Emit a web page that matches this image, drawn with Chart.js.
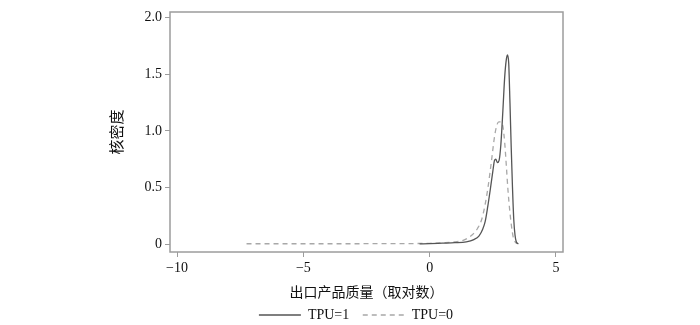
<!DOCTYPE html>
<html lang="zh">
<head>
  <meta charset="UTF-8" />
  <title>核密度</title>
  <script src="https://cdn.jsdelivr.net/npm/chart.js"></script>
  <style>
    body { margin: 0; background: #fff; }
    #wrap { width: 700px; height: 325px; }
  </style>
</head>
<body>
  <div id="wrap"><canvas id="chart"></canvas></div>

  <script>
    const xTicks = [-10, -5, 0, 5];
    const yTicks = [0, 0.5, 1, 1.5, 2];

    // TPU=1 (solid)
    const tpu1X = [-0.4, 0, 0.5, 1.0, 1.45, 1.75, 1.95, 2.1, 2.2, 2.3, 2.4, 2.5, 2.57, 2.62, 2.68, 2.75, 2.82, 2.9, 2.97, 3.03, 3.08, 3.13, 3.18, 3.23, 3.28, 3.33, 3.38, 3.43, 3.5];
    const tpu1Y = [0.002, 0.004, 0.008, 0.012, 0.02, 0.04, 0.07, 0.13, 0.2, 0.33, 0.48, 0.64, 0.74, 0.75, 0.72, 0.74, 0.88, 1.18, 1.47, 1.62, 1.67, 1.6, 1.25, 0.85, 0.5, 0.22, 0.08, 0.02, 0.002];

    // TPU=0 (dashed)
    const tpu0X = [-7.25, -5, -3, -1.5, -0.5, 0, 0.5, 1.0, 1.35, 1.7, 1.9, 2.05, 2.18, 2.31, 2.44, 2.57, 2.66, 2.74, 2.82, 2.9, 2.97, 3.04, 3.1, 3.17, 3.24, 3.31, 3.4, 3.5, 3.65];
    const tpu0Y = [0.003, 0.003, 0.003, 0.004, 0.005, 0.007, 0.012, 0.02, 0.035, 0.085, 0.14, 0.21, 0.33, 0.5, 0.72, 0.95, 1.05, 1.08, 1.08, 1.04, 0.9, 0.68, 0.48, 0.3, 0.16, 0.06, 0.015, 0.004, 0];

    const serif = '"Liberation Serif", "Noto Sans CJK SC", serif';
    const gray = '#9c9c9c';
    const ink = '#111';

    function pts(xs, ys) {
      return xs.map((x, i) => ({ x: x, y: ys[i] }));
    }

    // box round the plot area
    const frame = {
      id: 'frame',
      afterDatasetsDraw(chart) {
        const { ctx, chartArea: a } = chart;
        ctx.save();
        ctx.strokeStyle = gray;
        ctx.lineWidth = 1.5;
        ctx.strokeRect(a.left, a.top, a.right - a.left, a.bottom - a.top);
        ctx.restore();
      }
    };

    const ctx = document.getElementById('chart').getContext('2d');
    new Chart(ctx, {
      type: 'line',
      data: {
        datasets: [{
          label: 'TPU=1   ',
          data: pts(tpu1X, tpu1Y),
          borderColor: '#555',
          backgroundColor: '#555',
          borderWidth: 1.3,
          pointRadius: 0,
          cubicInterpolationMode: 'monotone',
          fill: false
        }, {
          label: 'TPU=0',
          data: pts(tpu0X, tpu0Y),
          borderColor: '#a8a8a8',
          backgroundColor: '#a8a8a8',
          borderWidth: 1.3,
          borderDash: [5, 4],
          pointRadius: 0,
          cubicInterpolationMode: 'monotone',
          fill: false
        }]
      },
      options: {
        responsive: true,
        maintainAspectRatio: false,
        animation: false,
        layout: { padding: { left: 12, right: 0, top: 12, bottom: -7 } },
        plugins: {
          legend: {
            position: 'bottom',
            labels: {
              usePointStyle: true,
              pointStyle: 'line',
              pointStyleWidth: 42,
              padding: 3,
              color: ink,
              font: { family: serif, size: 14 },
              generateLabels: chart => {
                const items = Chart.defaults.plugins.legend.labels.generateLabels(chart);
                items.forEach(it => {
                  const ds = chart.data.datasets[it.datasetIndex];
                  it.lineDash = ds.borderDash || [];
                  it.strokeStyle = ds.borderColor;
                  it.lineWidth = ds.borderWidth;
                });
                return items;
              }
            }
          },
          tooltip: { enabled: false }
        },
        scales: {
          x: {
            type: 'linear',
            min: -10.28,
            max: 5.28,
            afterBuildTicks: s => { s.ticks = xTicks.map(v => ({ value: v })); },
            afterFit: s => { s.height = 53; },
            ticks: {
              color: ink,
              padding: 3,
              maxRotation: 0,
              font: { family: serif, size: 14 },
              callback: v => v < 0 ? '\u2212' + Math.abs(v) : String(v)
            },
            grid: { drawOnChartArea: false, drawTicks: true, tickLength: 5, color: gray },
            border: { display: false },
            title: {
              display: true,
              text: '出口产品质量（取对数）',
              color: ink,
              font: { family: serif, size: 14 },
              padding: { top: 0, bottom: 3 }
            }
          },
          y: {
            min: -0.07,
            max: 2.05,
            afterBuildTicks: s => { s.ticks = yTicks.map(v => ({ value: v })); },
            afterFit: s => { s.width = 158; },
            ticks: {
              color: ink,
              padding: 3,
              font: { family: serif, size: 14 },
              callback: v => v === 0 ? '0' : v.toFixed(1)
            },
            grid: { drawOnChartArea: false, drawTicks: true, tickLength: 5, color: gray },
            border: { display: false },
            title: {
              display: true,
              text: '核密度',
              color: ink,
              font: { family: serif, size: 15 },
              padding: { top: 97, bottom: 0 }
            }
          },
          // empty axis that only keeps the right margin
          y2: {
            position: 'right',
            afterFit: s => { s.width = 137; },
            ticks: { display: false },
            grid: { display: false },
            border: { display: false }
          }
        }
      },
      plugins: [frame]
    });
  </script>
</body>
</html>
